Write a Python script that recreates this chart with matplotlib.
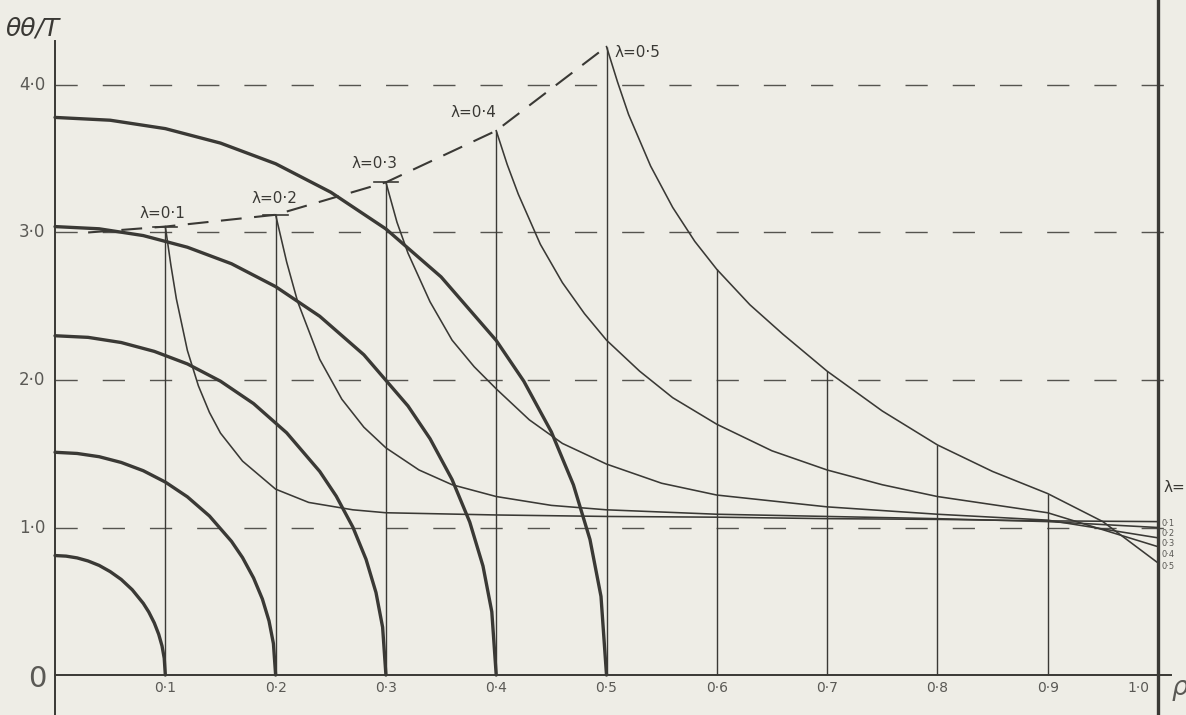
import matplotlib
matplotlib.use('Agg')
import matplotlib.pyplot as plt
import numpy as np

BG = '#eeede6'
INK = '#3a3935'
TXT = '#5a5955'

# hole radius ratios
lam = [0.1, 0.2, 0.3, 0.4, 0.5]
lam_labels = ['λ=0·1', 'λ=0·2', 'λ=0·3', 'λ=0·4', 'λ=0·5']

# thick curves (one per λ)
thick_rho = [
    [0, .01, .02, .03, .04, .05, .06, .07, .08, .085, .09, .094, .097, .099, .1],
    [0, .02, .04, .06, .08, .1, .12, .14, .16, .17, .18, .188, .194, .198, .2],
    [0, .03, .06, .09, .12, .15, .18, .21, .24, .255, .27, .282, .291, .297, .3],
    [0, .04, .08, .12, .16, .2, .24, .28, .32, .34, .36, .376, .388, .396, .4],
    [0, .05, .1, .15, .2, .25, .3, .35, .4, .425, .45, .47, .485, .495, .5],
]
thick_val = [
    [0.81, 0.806, 0.794, 0.773, 0.743, 0.701, 0.648, 0.578, 0.486, 0.427, 0.353, 0.276, 0.197, 0.114, 0],
    [1.51, 1.502, 1.480, 1.441, 1.385, 1.308, 1.208, 1.078, 0.906, 0.796, 0.658, 0.515, 0.367, 0.213, 0],
    [2.30, 2.289, 2.254, 2.194, 2.109, 1.992, 1.840, 1.642, 1.380, 1.212, 1.003, 0.784, 0.559, 0.324, 0],
    [3.04, 3.025, 2.979, 2.900, 2.788, 2.633, 2.432, 2.171, 1.824, 1.602, 1.325, 1.037, 0.739, 0.429, 0],
    [3.78, 3.761, 3.704, 3.606, 3.466, 3.273, 3.024, 2.699, 2.268, 1.992, 1.648, 1.289, 0.919, 0.533, 0],
]

# thin curves θθ/T for each λ, from ρ = λ out to ρ = 1
thin_rho = [
    [0.1, 0.105, 0.11, 0.12, 0.13, 0.14, 0.15, 0.17, 0.2, 0.23, 0.27, 0.3, 0.4, 0.5, 0.6, 0.7, 0.8, 0.9, 1.0],
    [0.2, 0.21, 0.22, 0.24, 0.26, 0.28, 0.3, 0.33, 0.36, 0.4, 0.45, 0.5, 0.6, 0.7, 0.8, 0.9, 1.0],
    [0.3, 0.31, 0.32, 0.34, 0.36, 0.38, 0.4, 0.43, 0.46, 0.5, 0.55, 0.6, 0.7, 0.8, 0.9, 1.0],
    [0.4, 0.41, 0.42, 0.44, 0.46, 0.48, 0.5, 0.53, 0.56, 0.6, 0.65, 0.7, 0.75, 0.8, 0.9, 1.0],
    [0.5, 0.51, 0.52, 0.54, 0.56, 0.58, 0.6, 0.63, 0.66, 0.7, 0.75, 0.8, 0.85, 0.9, 0.95, 1.0],
]
thin_val = [
    [3.04, 2.78, 2.55, 2.2, 1.96, 1.78, 1.64, 1.45, 1.26, 1.17, 1.12, 1.10, 1.085, 1.075, 1.07, 1.06, 1.055, 1.045, 1.04],
    [3.12, 2.80, 2.53, 2.14, 1.87, 1.68, 1.54, 1.39, 1.29, 1.21, 1.15, 1.12, 1.09, 1.075, 1.06, 1.04, 1.0],
    [3.34, 3.07, 2.86, 2.53, 2.27, 2.09, 1.94, 1.73, 1.57, 1.43, 1.30, 1.22, 1.14, 1.09, 1.05, 0.93],
    [3.69, 3.46, 3.26, 2.92, 2.66, 2.45, 2.27, 2.06, 1.88, 1.70, 1.52, 1.39, 1.29, 1.21, 1.10, 0.87],
    [4.26, 4.02, 3.80, 3.45, 3.17, 2.94, 2.75, 2.51, 2.31, 2.06, 1.79, 1.56, 1.38, 1.23, 1.04, 0.76],
]

# dashed envelope through the peaks
env_rho = [0.03, 0.1, 0.2, 0.3, 0.4, 0.5]
env_val = [3.0, 3.04, 3.12, 3.34, 3.69, 4.26]

y_ticks = [1.0, 2.0, 3.0, 4.0]
y_tick_labels = ['1·0', '2·0', '3·0', '4·0']
x_ticks = [0.1, 0.2, 0.3, 0.4, 0.5, 0.6, 0.7, 0.8, 0.9]
x_tick_labels = ['0·1', '0·2', '0·3', '0·4', '0·5', '0·6', '0·7', '0·8', '0·9']
end_labels = ['0·1', '0·2', '0·3', '0·4', '0·5']

fig = plt.figure(figsize=(11.86, 7.15), dpi=100)
fig.patch.set_facecolor(BG)
ax = fig.add_axes([0, 0, 1, 1])
ax.set_facecolor(BG)
ax.set_xlim(-0.0499, 1.0254)
ax.set_ylim(-0.271, 4.576)
ax.axis('off')

# dashed reference levels
ax.hlines(y_ticks, 0, 1.02, colors=INK, lw=1.0, linestyles=(0, (16, 18)), alpha=0.85)

# verticals: up to each peak, then up to the λ=0.5 curve
tops = [thin_val[i][0] for i in range(len(lam))]
tops += list(np.interp(x_ticks[5:], thin_rho[4], thin_val[4]))
ax.vlines(x_ticks, 0, tops, colors=INK, lw=1.0)
for i in range(3):
    ax.plot([lam[i] - 0.011, lam[i] + 0.011], [tops[i], tops[i]], color=INK, lw=1.2)

# curves
for r, v in zip(thick_rho, thick_val):
    ax.plot(r, v, color=INK, lw=2.4, solid_capstyle='round')
for r, v in zip(thin_rho, thin_val):
    ax.plot(r, v, color=INK, lw=1.15)
ax.plot(env_rho, env_val, color=INK, lw=1.5, linestyle=(0, (10, 6)))

# axes
ax.plot([0, 0], [-0.271, 4.30], color=INK, lw=1.4)
ax.plot([0, 1.012], [0, 0], color=INK, lw=1.4)
ax.plot([1.0, 1.0], [-0.271, 4.576], color=INK, lw=2.4)

# text
for y, s in zip(y_ticks, y_tick_labels):
    ax.text(-0.009, y, s, ha='right', va='center', fontsize=12, color=TXT)
ax.text(-0.008, -0.03, '0', ha='right', va='center', fontsize=21, color=TXT)
for x, s in zip(x_ticks, x_tick_labels):
    ax.text(x, -0.09, s, ha='center', va='center', fontsize=10, color=TXT)
ax.text(0.992, -0.09, '1·0', ha='right', va='center', fontsize=10, color=TXT)
ax.text(1.012, -0.09, 'ρ', ha='left', va='center', fontsize=19, color=TXT, style='italic')
ax.text(-0.045, 4.38, 'θθ/T', ha='left', va='center', fontsize=18, color=INK, style='italic')

lab_pos = [(0.097, 3.13, 'center'), (0.199, 3.23, 'center'), (0.29, 3.47, 'center'),
           (0.379, 3.81, 'center'), (0.507, 4.22, 'left')]
for (x, y, ha), s in zip(lab_pos, lam_labels):
    ax.text(x, y, s, ha=ha, va='center', fontsize=11, color=INK)

ax.text(1.005, 1.27, 'λ=', ha='left', va='center', fontsize=11, color=INK)
for y, s in zip([1.03, 0.96, 0.89, 0.815, 0.735], end_labels):
    ax.text(1.003, y, s, ha='left', va='center', fontsize=6, color=TXT)

fig.savefig('out.png', dpi=100, facecolor=BG)
